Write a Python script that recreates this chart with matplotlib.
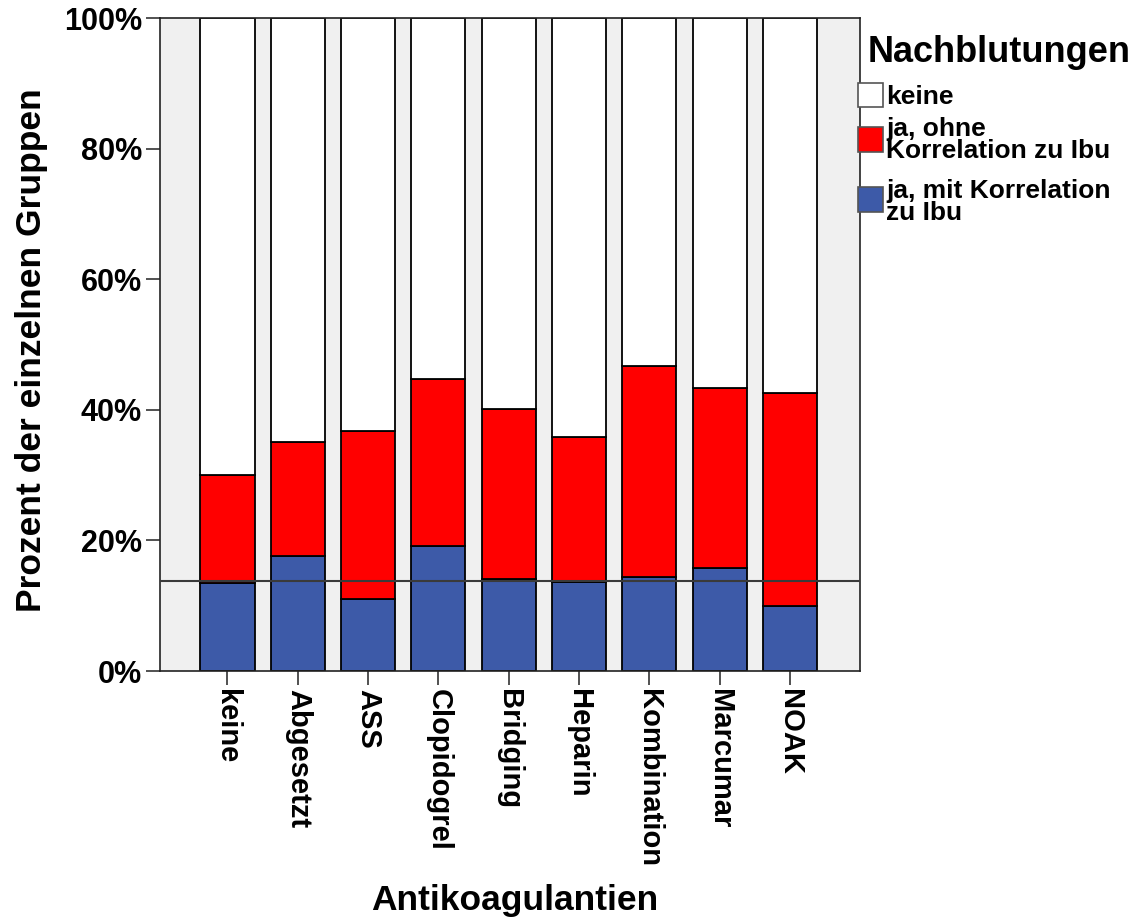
import matplotlib
matplotlib.use("Agg")
import matplotlib.pyplot as plt
from matplotlib.patches import Rectangle
import numpy as np

categories = ["keine", "Abgesetzt", "ASS", "Clopidogrel", "Bridging", "Heparin",
              "Kombination", "Marcumar", "NOAK"]
# percent of group
mit_korrelation = [13.4, 17.6, 11.1, 19.1, 14.1, 13.6, 14.4, 15.8, 10.0]
ohne_korrelation_top = [30.0, 35.1, 36.8, 44.7, 40.1, 35.8, 46.7, 43.3, 42.6]
reference_line = 13.8
series_labels = ["keine", "ja, ohne\nKorrelation zu Ibu", "ja, mit Korrelation\nzu Ibu"]
legend_title = "Nachblutungen"
ytick_vals = [0, 20, 40, 60, 80, 100]
ytick_labels = ["0%", "20%", "40%", "60%", "80%", "100%"]

c_blue = "#3d5aa8"
c_red = "#ff0000"
c_white = "#ffffff"
c_bg = "#f0f0f0"

plt.rcParams['font.family'] = ['Liberation Sans', 'DejaVu Sans']
plt.rcParams['font.weight'] = 'bold'

W, H = 1143, 921
fig = plt.figure(figsize=(W / 100, H / 100), dpi=100)
ax = fig.add_axes([160 / W, (H - 671) / H, 700 / W, 653 / H])
ax.set_facecolor(c_bg)

x = np.arange(len(categories))
blue = np.array(mit_korrelation)
red = np.array(ohne_korrelation_top) - blue
white = 100 - np.array(ohne_korrelation_top)
bw = 0.77
ax.bar(x, blue, bw, color=c_blue, edgecolor="black", linewidth=1.3, zorder=2)
ax.bar(x, red, bw, bottom=blue, color=c_red, edgecolor="black", linewidth=1.3, zorder=2)
ax.bar(x, white, bw, bottom=blue + red, color=c_white, edgecolor="black", linewidth=1.3, zorder=2)
ax.axhline(reference_line, color="#3a3a3a", linewidth=1.5, zorder=3)

ax.set_xlim(-0.96, 8.997)
ax.set_ylim(0, 100)
ax.set_xticks(x)
ax.set_xticklabels(categories, rotation=-90, fontsize=21, fontweight='bold', va='top', ha='center')
ax.set_yticks(ytick_vals)
ax.set_yticklabels(ytick_labels, fontsize=22, fontweight='bold')
ax.tick_params(axis='both', direction='out', length=10, width=1.2, color="#333333")
ax.tick_params(axis='x', pad=3)
ax.tick_params(axis='y', pad=3)
for s in ax.spines.values():
    s.set_color("#222222")
    s.set_linewidth(1.2)

fig.text(32 / W, 1 - 350 / H, "Prozent der einzelnen Gruppen", fontsize=25.5, fontweight='bold',
         rotation=90, ha='center', va='center')
fig.text(515 / W, 1 - 900 / H, "Antikoagulantien", fontsize=25.5, fontweight='bold',
         ha='center', va='center')

# legend
fig.text(868 / W, 1 - 52 / H, legend_title, fontsize=26, fontweight='bold', ha='left', va='center')
patch_specs = [(83, 107, c_white), (127, 152, c_red), (187, 212, c_blue)]
for (y0, y1, col) in patch_specs:
    fig.patches.append(Rectangle((858 / W, 1 - y1 / H), 25 / W, (y1 - y0) / H,
                                 transform=fig.transFigure, facecolor=col,
                                 edgecolor="#555555", linewidth=1.2))
text_centers = [97, 140, 202]
for lab, yc in zip(series_labels, text_centers):
    fig.text(886 / W, 1 - yc / H, lab, fontsize=19, fontweight='bold', ha='left',
             va='center', linespacing=0.9)

fig.savefig("out.png", dpi=100)
